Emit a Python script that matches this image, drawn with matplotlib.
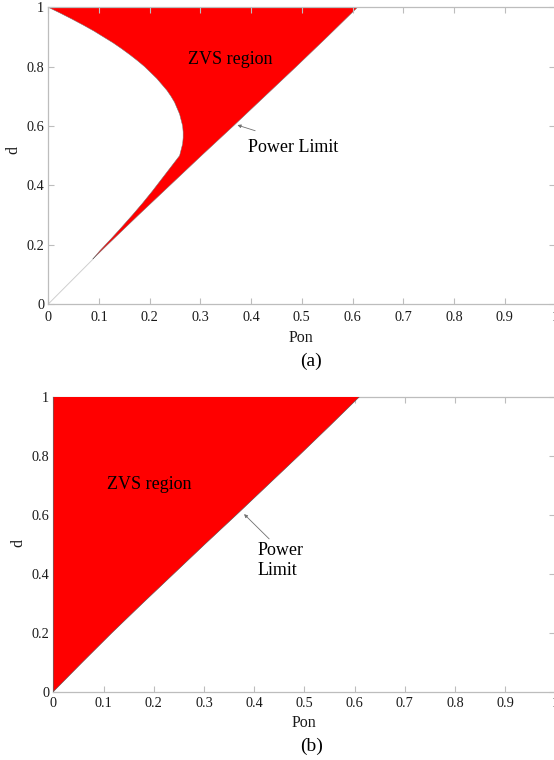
import matplotlib
matplotlib.use("Agg")
import matplotlib.pyplot as plt
import numpy as np

plt.rcParams['font.family'] = ['Liberation Serif', 'DejaVu Serif']

# ---- data ----
# Power limit boundary (d vs Pon)
power_d = [0.0, 0.1, 0.2, 0.3, 0.4, 0.5, 0.6, 0.7, 0.8, 0.9, 1.0]
power_P = [0.0, 0.058, 0.117, 0.178, 0.240, 0.302, 0.365, 0.427, 0.489, 0.550, 0.610]

# ZVS left boundary in case (a), from d=1 downwards to where it meets the power limit
zvs_left_d = [1.00, 0.98, 0.96, 0.94, 0.92, 0.90, 0.88, 0.86, 0.84, 0.82, 0.80,
              0.78, 0.76, 0.74, 0.72, 0.70, 0.68, 0.66, 0.64, 0.62, 0.60,
              0.58, 0.56, 0.54, 0.52, 0.50, 0.48, 0.44, 0.40, 0.38, 0.34,
              0.30, 0.25, 0.22, 0.20, 0.18, 0.16, 0.15]
zvs_left_P = [0.000, 0.024, 0.047, 0.069, 0.090, 0.109, 0.128, 0.145, 0.161, 0.176, 0.190,
              0.202, 0.214, 0.224, 0.234, 0.242, 0.249, 0.254, 0.259, 0.262, 0.265,
              0.266, 0.266, 0.265, 0.262, 0.259, 0.250, 0.232, 0.214, 0.205, 0.186,
              0.166, 0.140, 0.124, 0.113, 0.102, 0.092, 0.087]

x_ticks = [0, 0.1, 0.2, 0.3, 0.4, 0.5, 0.6, 0.7, 0.8, 0.9, 1]
x_ticklabels = ['0', '0.1', '0.2', '0.3', '0.4', '0.5', '0.6', '0.7', '0.8', '0.9', '1']
y_ticks = [0, 0.2, 0.4, 0.6, 0.8, 1]
y_ticklabels = ['0', '0.2', '0.4', '0.6', '0.8', '1']

W, H = 554, 760
fig = plt.figure(figsize=(W / 100, H / 100), dpi=100)

ax1 = fig.add_axes([48.3 / W, (H - 304) / H, 507 / W, 296.7 / H])
ax2 = fig.add_axes([53.3 / W, (H - 691.7) / H, 502 / W, 295 / H])

frame_col = '#bdbdbd'
text_col = '#1a1a1a'


def style(ax, xpad):
    ax.set_xlim(0, 1)
    ax.set_ylim(0, 1)
    ax.set_xticks(x_ticks)
    ax.set_xticklabels(x_ticklabels)
    ax.set_yticks(y_ticks)
    ax.set_yticklabels(y_ticklabels)
    for s in ax.spines.values():
        s.set_color(frame_col)
        s.set_linewidth(0.9)
    ax.tick_params(axis='both', direction='in', length=4, width=0.8,
                   color=frame_col, labelcolor=text_col, labelsize=10.3,
                   top=True, right=True)
    ax.tick_params(axis='x', pad=xpad)
    ax.tick_params(axis='y', pad=3)


# ---- (a) ----
pd = np.array(power_d)
pp = np.array(power_P)
merge_d = zvs_left_d[-1]
mask = pd > merge_d
poly_P = list(zvs_left_P) + list(pp[mask])
poly_d = list(zvs_left_d) + list(pd[mask])
ax1.fill(poly_P, poly_d, facecolor='#ff0000', edgecolor='#707070', linewidth=0.35, zorder=1)
ax1.plot(np.interp([0, merge_d], pd, pp), [0, merge_d], color='#cfcfcf', lw=0.7, zorder=1)
style(ax1, 5)
ax1.text(0.276, 0.809, 'ZVS region', fontsize=13, color='#000000', va='baseline', ha='left')
ax1.text(0.394, 0.513, 'Power Limit', fontsize=13, color='#000000', va='baseline', ha='left')
ax1.annotate('', xy=(0.373, 0.603), xytext=(0.408, 0.584),
             arrowprops=dict(arrowstyle='-|>', color='#707070', lw=0.6,
                             mutation_scale=5, shrinkA=0, shrinkB=0))

# ---- (b) ----
poly2_P = list(power_P) + [0.0]
poly2_d = list(power_d) + [1.0]
ax2.fill(poly2_P, poly2_d, facecolor='#ff0000', edgecolor='#505050', linewidth=0.4, zorder=3)
style(ax2, 4)
ax2.text(0.106, 0.687, 'ZVS region', fontsize=13, color='#000000', va='baseline', ha='left', zorder=4)
ax2.text(0.406, 0.463, 'Power', fontsize=13, color='#000000', va='baseline', ha='left')
ax2.text(0.406, 0.395, 'Limit', fontsize=13, color='#000000', va='baseline', ha='left')
ax2.annotate('', xy=(0.380, 0.602), xytext=(0.430, 0.518),
             arrowprops=dict(arrowstyle='-|>', color='#707070', lw=0.6,
                             mutation_scale=5, shrinkA=0, shrinkB=0))

# ---- axis labels / captions ----
fig.text(301 / W, 1 - 338 / H, 'Pon', fontsize=11.5, ha='center', va='center', color=text_col)
fig.text(311 / W, 1 - 361 / H, '(a)', fontsize=14, ha='center', va='center', color='#000000')
fig.text(13 / W, 1 - 150 / H, 'd', fontsize=11.5, ha='center', va='center', rotation=90, color=text_col)

fig.text(303.5 / W, 1 - 723 / H, 'Pon', fontsize=11.5, ha='center', va='center', color=text_col)
fig.text(312 / W, 1 - 746 / H, '(b)', fontsize=14, ha='center', va='center', color='#000000')
fig.text(18 / W, 1 - 543 / H, 'd', fontsize=11.5, ha='center', va='center', rotation=90, color=text_col)

fig.savefig('out.png', dpi=100, facecolor='white')
